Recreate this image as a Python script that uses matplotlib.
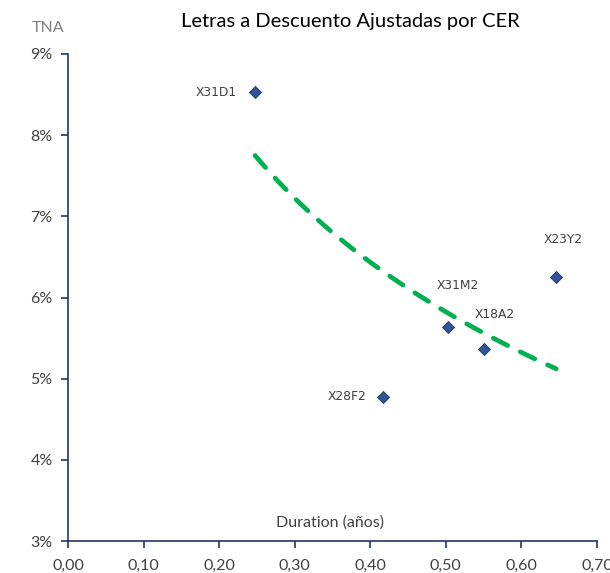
import matplotlib
matplotlib.use('agg')
import matplotlib.pyplot as plt
import numpy as np
from matplotlib.ticker import FuncFormatter

# data
bonos = ['X31D1', 'X28F2', 'X31M2', 'X18A2', 'X23Y2']
duration = [0.2475, 0.417, 0.503, 0.550, 0.646]
tna = [8.53, 4.78, 5.64, 5.36, 6.25]

navy = '#1F3864'
gray = '#404040'

fig = plt.figure(figsize=(6.10, 5.73), dpi=100)
ax = fig.add_axes([0.1115, 0.0558, 0.8672, 0.85])

# logarithmic trend line (like Excel's)
b, a = np.polyfit(np.log(duration), tna, 1)
xt = np.linspace(min(duration), max(duration), 200)
ax.plot(xt, a + b * np.log(xt), color='#00B050', lw=3.4, ls=(0, (3.4, 3.0)),
        dash_capstyle='round', zorder=2)

ax.scatter(duration, tna, marker='D', s=38, color='#2F5597', edgecolor=navy,
           linewidth=0.6, zorder=3)

# label offsets in points (dx, dy, ha)
offs = {'X31D1': (-13, 0, 'right'), 'X28F2': (-12, 0, 'right'),
        'X31M2': (7, 30, 'center'), 'X18A2': (8, 25, 'center'),
        'X23Y2': (5, 27, 'center')}
for n, x, y in zip(bonos, duration, tna):
    dx, dy, ha = offs[n]
    ax.annotate(n, (x, y), xytext=(dx, dy), textcoords='offset points',
                ha=ha, va='center', fontsize=8.8, color=gray, family='DejaVu Sans')

ax.set_xlim(0, 0.70)
ax.set_ylim(3, 9)
ax.set_xticks(np.arange(0, 0.71, 0.1))
ax.set_yticks(range(3, 10))
ax.xaxis.set_major_formatter(FuncFormatter(lambda v, p: ('%.2f' % v).replace('.', ',')))
ax.yaxis.set_major_formatter(FuncFormatter(lambda v, p: '%d%%' % v))

for s in ['top', 'right']:
    ax.spines[s].set_visible(False)
for s in ['left', 'bottom']:
    ax.spines[s].set_color(navy)
    ax.spines[s].set_linewidth(1.2)
ax.tick_params(axis='both', direction='out', color=navy, width=1.2, length=5,
               labelsize=11.5, labelcolor=gray)
for t in ax.get_xticklabels() + ax.get_yticklabels():
    t.set_family('Lato')
ax.tick_params(axis='x', pad=8)
ax.tick_params(axis='y', pad=6)

ax.text(0.495, 0.037, 'Duration (años)', transform=ax.transAxes, ha='center',
        va='center', fontsize=11.5, color=gray, family='Lato')
fig.text(0.079, 0.951, 'TNA', ha='center', va='center', fontsize=11.5,
         color='#7F7F7F', family='Lato')
fig.text(0.574, 0.962, 'Letras a Descuento Ajustadas por CER', ha='center',
         va='center', fontsize=14.5, color='black', family='Lato')

fig.savefig('out.png', dpi=100)
